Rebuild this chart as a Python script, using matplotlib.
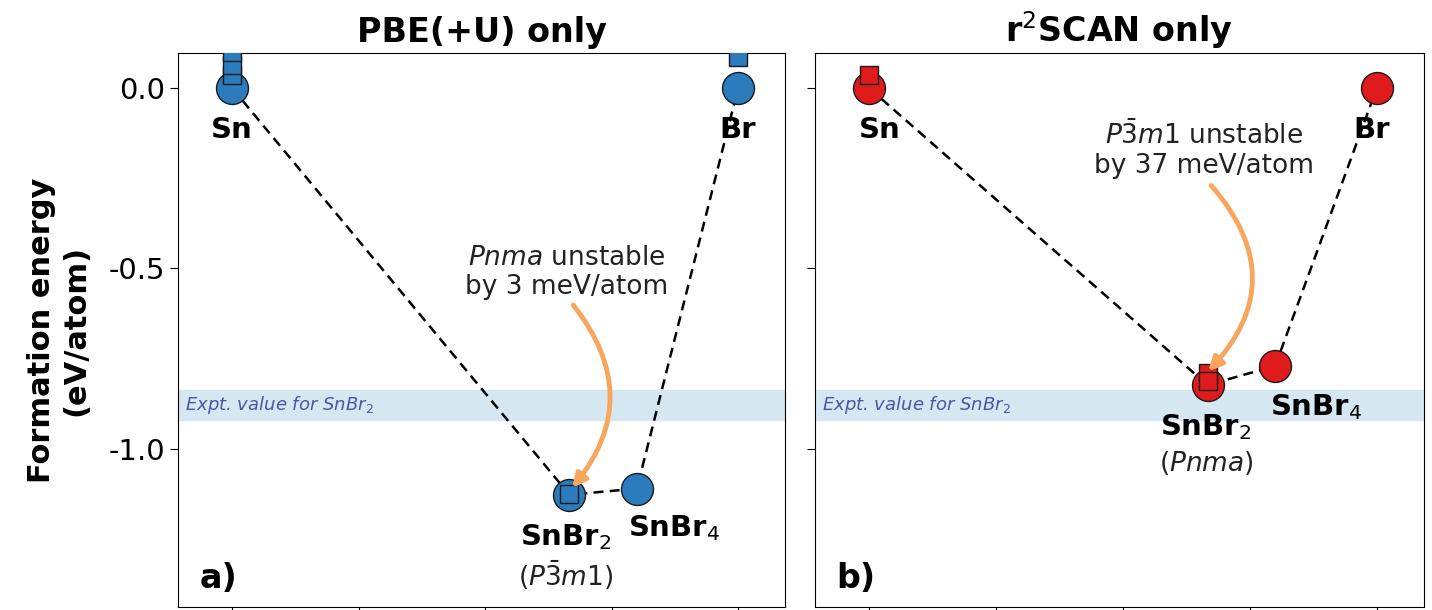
import matplotlib
matplotlib.use("Agg")
import matplotlib.pyplot as plt

plt.rcParams['axes.unicode_minus'] = False
plt.rcParams['font.family'] = ['DejaVu Sans']

# composition = Br fraction
phases = ['Sn', 'SnBr2', 'SnBr4', 'Br']
x_phase = [0.0, 2/3, 0.8, 1.0]

# ground-state (hull) energies, eV/atom
pbe_hull = [0.0, -1.127, -1.11, 0.0]
scan_hull = [0.0, -0.823, -0.77, 0.0]

# higher-energy polymorphs (squares)
pbe_poly_x = [0.0, 0.0, 0.0, 1.0, 2/3]
pbe_poly_y = [0.035, 0.065, 0.10, 0.085, -1.124]
scan_poly_x = [0.0, 2/3, 2/3]
scan_poly_y = [0.035, -0.79, -0.812]

expt_lo, expt_hi = -0.92, -0.837

blue = '#2b7bbd'
red = '#e01b1b'
orange = '#f6a75d'

fig = plt.figure(figsize=(14.32, 6.10), dpi=100)
ax1 = fig.add_axes([0.1243, 0.005, 0.424, 0.908])
ax2 = fig.add_axes([0.569, 0.005, 0.4254, 0.908])


def draw(ax, hull, px, py, col):
    ax.axhspan(expt_lo, expt_hi, color='#d5e8f2', zorder=0)
    ax.plot(x_phase, hull, ls=(0, (4, 2.5)), color='black', lw=1.8, zorder=1)
    ax.plot(x_phase, hull, 'o', ms=23, mfc=col, mec='#1a1a1a', mew=1.0, zorder=2)
    ax.plot(px, py, 's', ms=12.5, mfc=col, mec='#1a1a1a', mew=1.0, zorder=3)
    ax.set_xlim(-0.107, 1.093)
    ax.set_ylim(-1.438, 0.097)
    ax.set_xticks([0, 0.25, 0.5, 0.75, 1.0])
    ax.set_xticklabels([])
    ax.set_yticks([0.0, -0.5, -1.0])
    ax.tick_params(labelsize=21, length=6)
    ax.text(0.012, (expt_lo + expt_hi) / 2, 'Expt. value for SnBr$_2$',
            transform=ax.get_yaxis_transform(), fontsize=13, style='italic',
            color='#4b55a8', va='center', ha='left', zorder=4)


draw(ax1, pbe_hull, pbe_poly_x, pbe_poly_y, blue)
draw(ax2, scan_hull, scan_poly_x, scan_poly_y, red)
ax2.set_yticklabels([])

ax1.set_title('PBE(+U) only', fontsize=24, fontweight='bold', pad=8)
ax2.set_title('r$^2$SCAN only', fontsize=24, fontweight='bold', pad=8)

lab = dict(fontsize=21, fontweight='bold', ha='center', va='center', zorder=5)
ax1.text(0.0, -0.115, 'Sn', **lab)
ax1.text(1.0, -0.115, 'Br', **lab)
ax1.text(0.66, -1.244, 'SnBr$_2$', **lab)
ax1.text(0.873, -1.22, 'SnBr$_4$', **lab)
ax1.text(0.66, -1.35, r'($P\bar{3}m1$)', fontsize=19, ha='center', va='center', color='#222222')

ax2.text(0.02, -0.115, 'Sn', **lab)
ax2.text(0.99, -0.115, 'Br', **lab)
ax2.text(0.664, -0.94, 'SnBr$_2$', **lab)
ax2.text(0.881, -0.884, 'SnBr$_4$', **lab)
ax2.text(0.664, -1.04, r'($Pnma$)', fontsize=19, ha='center', va='center', color='#222222')

ax1.text(0.662, -0.51, '$Pnma$ unstable\nby 3 meV/atom', fontsize=19,
         ha='center', va='center', color='#222222', linespacing=1.15)
ax2.text(0.66, -0.172, r'$P\bar{3}m1$ unstable' + '\nby 37 meV/atom', fontsize=19,
         ha='center', va='center', color='#222222', linespacing=1.15)

arr = dict(arrowstyle='-|>,head_length=0.8,head_width=0.4', color=orange, lw=3.5,
           shrinkA=0, shrinkB=0)
ax1.annotate('', xy=(0.672, -1.108), xytext=(0.674, -0.601),
             arrowprops=dict(connectionstyle='arc3,rad=-0.4', **arr), zorder=6)
ax2.annotate('', xy=(0.668, -0.785), xytext=(0.674, -0.27),
             arrowprops=dict(connectionstyle='arc3,rad=-0.45', **arr), zorder=6)

ax1.text(0.035, 0.035, 'a)', transform=ax1.transAxes, fontsize=24, fontweight='bold')
ax2.text(0.035, 0.035, 'b)', transform=ax2.transAxes, fontsize=24, fontweight='bold')

fig.text(0.041, 0.459, 'Formation energy\n(eV/atom)', rotation=90, fontsize=22,
         fontweight='bold', ha='center', va='center', multialignment='center')

fig.savefig('out.png', dpi=100)
